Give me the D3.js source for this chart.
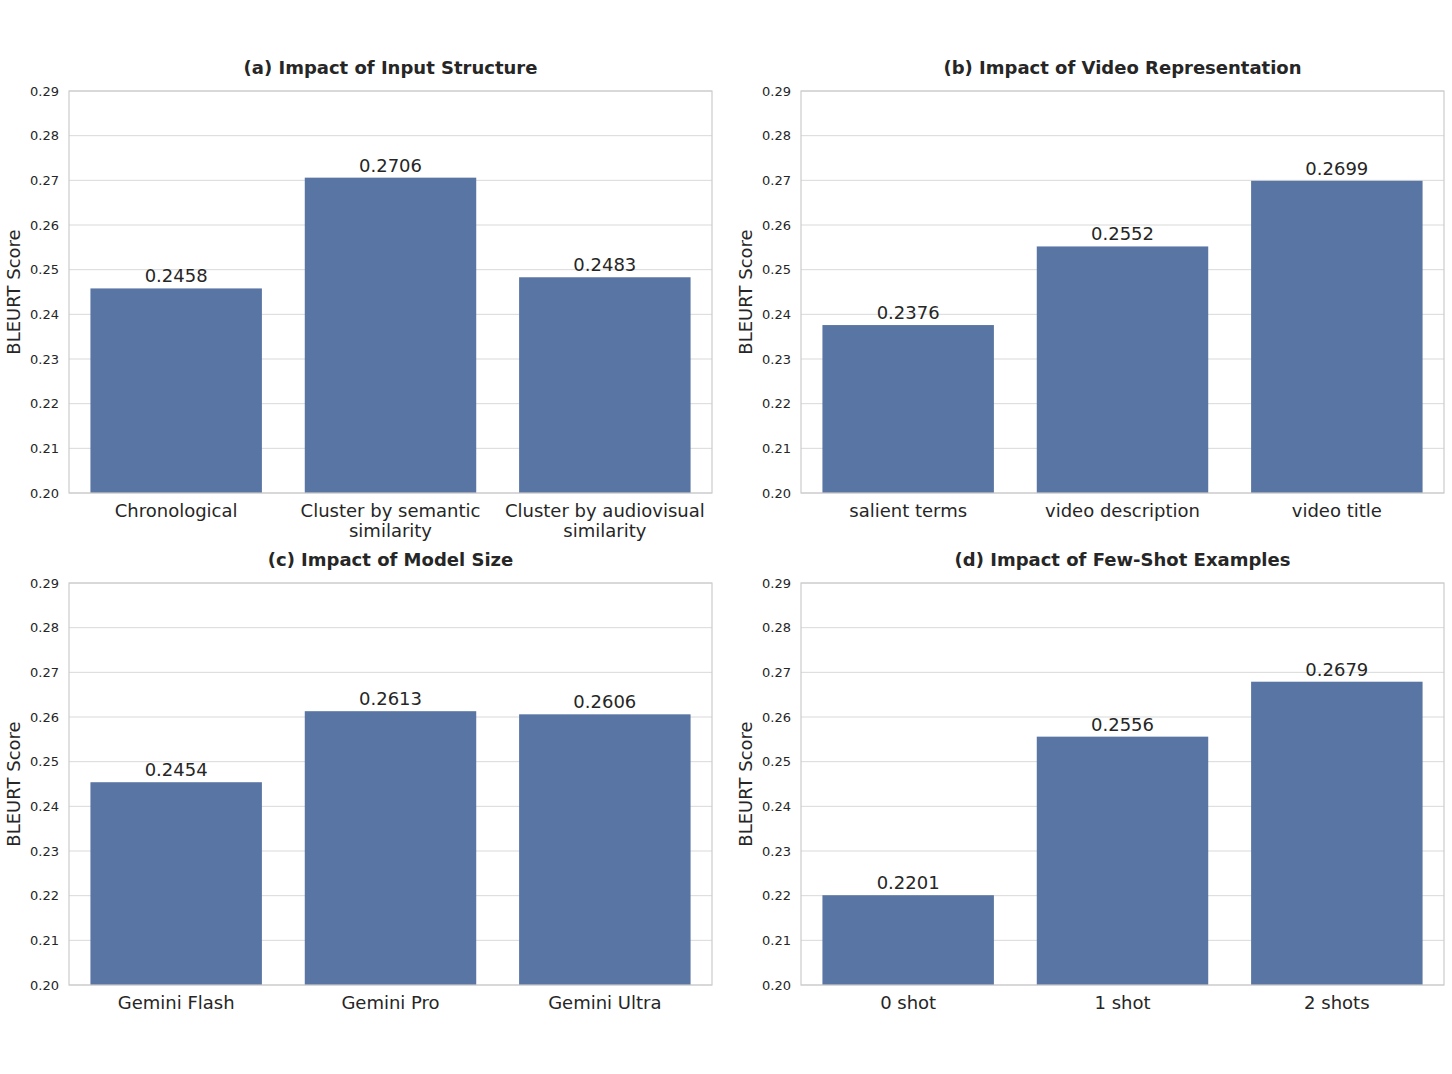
<!DOCTYPE html>
<html>
<head>
<meta charset="utf-8">
<script src="https://cdn.jsdelivr.net/npm/d3@7"></script>
<style>
  body { margin: 0; background: #fff; }
  text { font-family: "DejaVu Sans", sans-serif; fill: #262626; }
</style>
</head>
<body>
<div class="chart"></div>
<script>
// panel data
var titles = ["(a) Impact of Input Structure", "(b) Impact of Video Representation",
              "(c) Impact of Model Size", "(d) Impact of Few-Shot Examples"];
var categoriesA = ["Chronological", "Cluster by semantic\nsimilarity", "Cluster by audiovisual\nsimilarity"];
var valuesA = [0.2458, 0.2706, 0.2483];
var categoriesB = ["salient terms", "video description", "video title"];
var valuesB = [0.2376, 0.2552, 0.2699];
var categoriesC = ["Gemini Flash", "Gemini Pro", "Gemini Ultra"];
var valuesC = [0.2454, 0.2613, 0.2606];
var categoriesD = ["0 shot", "1 shot", "2 shots"];
var valuesD = [0.2201, 0.2556, 0.2679];
var yTicks = [0.20, 0.21, 0.22, 0.23, 0.24, 0.25, 0.26, 0.27, 0.28, 0.29];
var yLabel = "BLEURT Score";

var panels = [
    {title: titles[0], cats: categoriesA, vals: valuesA, left: 69, top: 91},
    {title: titles[1], cats: categoriesB, vals: valuesB, left: 801, top: 91},
    {title: titles[2], cats: categoriesC, vals: valuesC, left: 69, top: 583},
    {title: titles[3], cats: categoriesD, vals: valuesD, left: 801, top: 583}
];

var width = 1452, height = 1074;
var pw = 643, ph = 402;

var svg = d3.select("div.chart")
    .append("svg")
    .attr("width", width)
    .attr("height", height);

panels.forEach(function (p) {
    var g = svg.append("g")
        .attr("transform", "translate(" + p.left + "," + p.top + ")");

    var x = d3.scaleBand()
        .domain(p.cats)
        .range([0, pw])
        .paddingInner(0.2)
        .paddingOuter(0.1);
    var y = d3.scaleLinear()
        .domain([0.20, 0.29])
        .range([ph, 0]);

    // grid lines
    g.selectAll("line.grid")
        .data(yTicks)
        .enter().append("line")
        .attr("class", "grid")
        .attr("x1", 0).attr("x2", pw)
        .attr("y1", function (d) { return y(d); })
        .attr("y2", function (d) { return y(d); })
        .attr("stroke", "#d9d9d9")
        .attr("stroke-width", 1);

    // bars
    g.selectAll("rect.bar")
        .data(p.vals)
        .enter().append("rect")
        .attr("class", "bar")
        .attr("x", function (d, i) { return x(p.cats[i]); })
        .attr("width", x.bandwidth())
        .attr("y", function (d) { return y(d); })
        .attr("height", function (d) { return ph - y(d); })
        .attr("fill", "#5975a4");

    // value labels
    g.selectAll("text.val")
        .data(p.vals)
        .enter().append("text")
        .attr("class", "val")
        .attr("x", function (d, i) { return x(p.cats[i]) + x.bandwidth() / 2; })
        .attr("y", function (d) { return y(d) - 6; })
        .attr("text-anchor", "middle")
        .style("font-size", "18px")
        .text(function (d) { return d.toFixed(4); });

    // spines
    g.append("rect")
        .attr("x", 0).attr("y", 0)
        .attr("width", pw).attr("height", ph)
        .attr("fill", "none")
        .attr("stroke", "#cccccc")
        .attr("stroke-width", 1.2);

    // y axis
    var yAxis = g.append("g")
        .call(d3.axisLeft(y).tickValues(yTicks).tickFormat(d3.format(".2f")).tickSize(0).tickPadding(10));
    yAxis.select(".domain").remove();
    yAxis.selectAll("text")
        .style("font-size", "13px")
        .style("font-family", "DejaVu Sans, sans-serif")
        .attr("fill", "#262626");

    // x axis (multi-line labels)
    var xAxis = g.append("g")
        .attr("transform", "translate(0," + ph + ")");
    p.cats.forEach(function (c) {
        var t = xAxis.append("text")
            .attr("x", x(c) + x.bandwidth() / 2)
            .attr("y", 24)
            .attr("text-anchor", "middle")
            .style("font-size", "18px");
        c.split("\n").forEach(function (line, i) {
            t.append("tspan")
                .attr("x", x(c) + x.bandwidth() / 2)
                .attr("dy", i == 0 ? 0 : 20)
                .text(line);
        });
    });

    // y label
    g.append("text")
        .attr("transform", "translate(-49," + (ph / 2) + ") rotate(-90)")
        .attr("text-anchor", "middle")
        .style("font-size", "18px")
        .text(yLabel);

    // title
    g.append("text")
        .attr("x", pw / 2)
        .attr("y", -17)
        .attr("text-anchor", "middle")
        .style("font-size", "18px")
        .style("font-weight", "bold")
        .text(p.title);
});
</script>
</body>
</html>
